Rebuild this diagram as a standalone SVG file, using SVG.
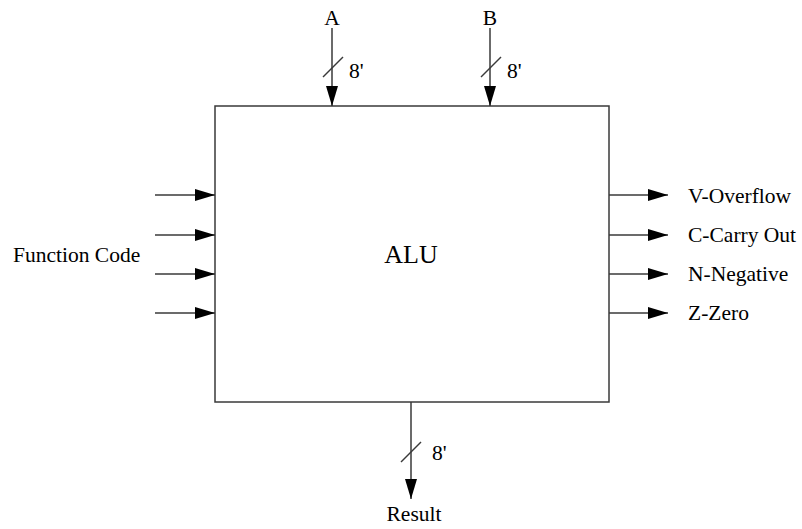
<svg xmlns="http://www.w3.org/2000/svg" width="802" height="529" viewBox="0 0 802 529">
<defs>
<marker id="ah" markerWidth="20" markerHeight="12" refX="20" refY="6" orient="auto" markerUnits="userSpaceOnUse">
<path d="M0,0 L20,6 L0,12 Z" fill="#000"/>
</marker>
<style>
.ln{stroke:#3a3a3a;stroke-width:1.5;fill:none}
text{font-family:'Liberation Serif','Times New Roman',serif;font-size:21.5px;fill:#000}
.big{font-size:26px}
</style>
</defs>
<rect width="802" height="529" fill="#fff"/>
<g id="alu">
<rect x="215" y="106" width="394" height="296" class="ln"/>
<text x="411" y="263" class="big" text-anchor="middle">ALU</text>
</g>
<g id="connectors">
<line x1="332" y1="28" x2="332" y2="106" class="ln" marker-end="url(#ah)"/>
<line x1="323" y1="77" x2="343" y2="57" class="ln"/>
<line x1="490" y1="28" x2="490" y2="106" class="ln" marker-end="url(#ah)"/>
<line x1="481" y1="77" x2="501" y2="57" class="ln"/>
<line x1="411" y1="402" x2="411" y2="499" class="ln" marker-end="url(#ah)"/>
<line x1="401" y1="462" x2="421" y2="442" class="ln"/>
<line x1="155" y1="195" x2="215" y2="195" class="ln" marker-end="url(#ah)"/>
<line x1="155" y1="235" x2="215" y2="235" class="ln" marker-end="url(#ah)"/>
<line x1="155" y1="274" x2="215" y2="274" class="ln" marker-end="url(#ah)"/>
<line x1="155" y1="313" x2="215" y2="313" class="ln" marker-end="url(#ah)"/>
<line x1="609" y1="195" x2="668" y2="195" class="ln" marker-end="url(#ah)"/>
<line x1="609" y1="235" x2="668" y2="235" class="ln" marker-end="url(#ah)"/>
<line x1="609" y1="274" x2="668" y2="274" class="ln" marker-end="url(#ah)"/>
<line x1="609" y1="313" x2="668" y2="313" class="ln" marker-end="url(#ah)"/>
</g>
<g id="labels">
<text x="332" y="25" text-anchor="middle">A</text>
<text x="349" y="78">8'</text>
<text x="490" y="25" text-anchor="middle">B</text>
<text x="507" y="78">8'</text>
<text x="432" y="460">8'</text>
<text x="414" y="521" text-anchor="middle">Result</text>
<text x="13" y="262">Function Code</text>
<text x="688" y="203">V-Overflow</text>
<text x="688" y="242">C-Carry Out</text>
<text x="688" y="281">N-Negative</text>
<text x="688" y="320">Z-Zero</text>
</g>
</svg>
